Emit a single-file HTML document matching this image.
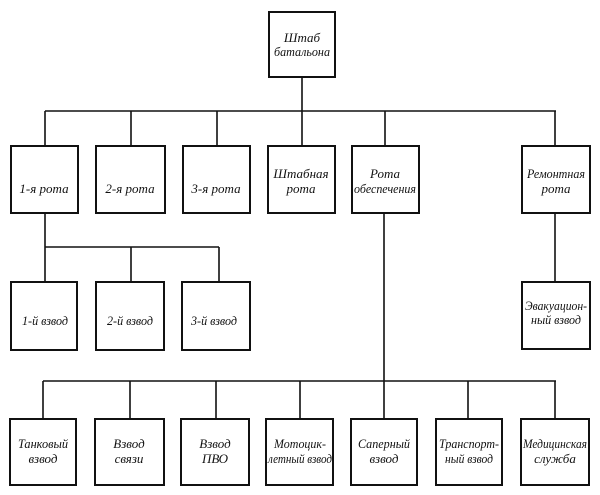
<!DOCTYPE html>
<html><head><meta charset="utf-8"><style>
html,body{margin:0;padding:0;background:#fff;}
svg{display:block;}
text{font-family:"Liberation Serif","DejaVu Serif",serif;font-style:italic;font-size:13px;fill:#111;text-anchor:middle;}
</style></head><body>
<svg width="600" height="495" viewBox="0 0 600 495" xmlns="http://www.w3.org/2000/svg">
<g fill="#fff" stroke="#111" stroke-width="2">
<rect x="269" y="12" width="66" height="65"/>
<rect x="11" y="146" width="67" height="67"/>
<rect x="96" y="146" width="69" height="67"/>
<rect x="183" y="146" width="67" height="67"/>
<rect x="268" y="146" width="67" height="67"/>
<rect x="352" y="146" width="67" height="67"/>
<rect x="522" y="146" width="68" height="67"/>
<rect x="11" y="282" width="66" height="68"/>
<rect x="96" y="282" width="68" height="68"/>
<rect x="182" y="282" width="68" height="68"/>
<rect x="522" y="282" width="68" height="67"/>
<rect x="10" y="419" width="66" height="66"/>
<rect x="95" y="419" width="69" height="66"/>
<rect x="181" y="419" width="68" height="66"/>
<rect x="266" y="419" width="67" height="66"/>
<rect x="351" y="419" width="66" height="66"/>
<rect x="436" y="419" width="66" height="66"/>
<rect x="521" y="419" width="68" height="66"/>
</g>
<g stroke="#111" stroke-width="1.6" fill="none">
<path d="M302 77V111M45 111H556M45 111V146M131 111V146M217 111V146M302 111V146M385 111V146M555 111V146"/>
<path d="M45 213V282M45 247H219M131 247V282M219 247V282"/>
<path d="M555 213V282"/>
<path d="M384 213V381M43 381H556M43 381V419M130 381V419M216 381V419M300 381V419M384 381V419M468 381V419M555 381V419"/>
</g>
<text x="302" y="42">Штаб</text><text x="302" y="56" textLength="56" lengthAdjust="spacingAndGlyphs">батальона</text>
<text x="44" y="193">1-я рота</text>
<text x="130" y="193">2-я рота</text>
<text x="216" y="193">3-я рота</text>
<text x="301" y="178">Штабная</text><text x="301" y="193">рота</text>
<text x="385" y="178">Рота</text><text x="385" y="193" textLength="62" lengthAdjust="spacingAndGlyphs">обеспечения</text>
<text x="556" y="178" textLength="58" lengthAdjust="spacingAndGlyphs">Ремонтная</text><text x="556" y="193">рота</text>
<text x="45" y="325" textLength="46" lengthAdjust="spacingAndGlyphs">1-й взвод</text>
<text x="130" y="325" textLength="46" lengthAdjust="spacingAndGlyphs">2-й взвод</text>
<text x="214" y="325" textLength="46" lengthAdjust="spacingAndGlyphs">3-й взвод</text>
<text x="556" y="310" textLength="62" lengthAdjust="spacingAndGlyphs">Эвакуацион-</text><text x="556" y="324" textLength="50" lengthAdjust="spacingAndGlyphs">ный взвод</text>
<text x="43" y="448" textLength="50" lengthAdjust="spacingAndGlyphs">Танковый</text><text x="43" y="463">взвод</text>
<text x="129" y="448">Взвод</text><text x="129" y="463">связи</text>
<text x="215" y="448">Взвод</text><text x="215" y="463">ПВО</text>
<text x="300" y="448" textLength="52" lengthAdjust="spacingAndGlyphs">Мотоцик-</text><text x="300" y="463" textLength="64" lengthAdjust="spacingAndGlyphs">летный взвод</text>
<text x="384" y="448" textLength="52" lengthAdjust="spacingAndGlyphs">Саперный</text><text x="384" y="463">взвод</text>
<text x="469" y="448" textLength="60" lengthAdjust="spacingAndGlyphs">Транспорт-</text><text x="469" y="463" textLength="48" lengthAdjust="spacingAndGlyphs">ный взвод</text>
<text x="555" y="448" textLength="64" lengthAdjust="spacingAndGlyphs">Медицинская</text><text x="555" y="463">служба</text>
</svg>
</body></html>
